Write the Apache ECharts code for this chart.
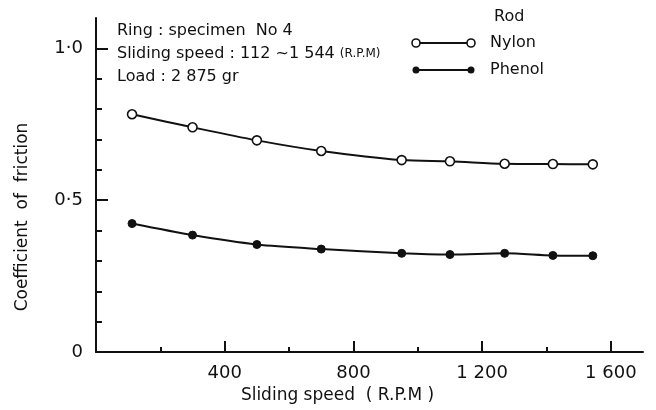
<!DOCTYPE html>
<html>
<head>
<meta charset="utf-8">
<script src="https://cdn.jsdelivr.net/npm/echarts@6/dist/echarts.min.js"></script>
<style>
  html, body { margin: 0; padding: 0; background: #fff; }
  #chart { width: 656px; height: 410px; }
</style>
</head>
<body>
<div id="chart"></div>
<script>
// sliding speed (R.P.M) for each measurement
const speeds = [112, 300, 500, 700, 950, 1100, 1270, 1420, 1544];
// coefficient of friction per rod material
const nylon = [0.783, 0.740, 0.697, 0.662, 0.632, 0.628, 0.620, 0.619, 0.618];
const phenol = [0.423, 0.385, 0.354, 0.339, 0.325, 0.321, 0.325, 0.318, 0.317];

const xMajorTicks = [400, 800, 1200, 1600];
const xMinorTicks = [200, 600, 1000, 1400];
const xTickLabels = ['400', '800', '1 200', '1 600'];
const yMajorTicks = [0, 0.5, 1.0];
const yMinorTicks = [0.1, 0.2, 0.3, 0.4, 0.6, 0.7, 0.8, 0.9];
const yTickLabels = ['0', '0·5', '1·0'];

const FONT = 'DejaVu Sans';
const INK = '#111';
const TEXT_FONT = '16px "DejaVu Sans"';

function pairs(xs, ys) {
  return xs.map((x, i) => [x, ys[i]]);
}
function labelFor(ticks, labels) {
  return v => {
    const i = ticks.findIndex(t => Math.abs(t - v) < 1e-6);
    return i < 0 ? '' : labels[i];
  };
}

const chart = echarts.init(document.getElementById('chart'));

const baseX = { type: 'value', gridIndex: 0, position: 'bottom', min: 0, max: 1700, splitLine: { show: false } };
const baseY = { type: 'value', gridIndex: 0, position: 'left', min: 0, max: 1.1, splitLine: { show: false } };

chart.setOption({
  animation: false,
  backgroundColor: '#fff',
  textStyle: { fontFamily: FONT, color: INK },
  grid: { left: 96, right: 13, top: 18, bottom: 58 },
  xAxis: [
    Object.assign({}, baseX, {
      name: 'Sliding speed  ( R.P.M )',
      nameLocation: 'middle',
      nameGap: 32,
      nameTextStyle: { fontSize: 17, color: INK, padding: [0, 64, 0, 0] },
      axisLine: { lineStyle: { color: INK, width: 2 } },
      axisTick: { inside: true, length: 11, customValues: xMajorTicks, lineStyle: { color: INK, width: 2 } },
      axisLabel: { customValues: xMajorTicks, formatter: labelFor(xMajorTicks, xTickLabels), fontSize: 18, color: INK, margin: 12 }
    }),
    Object.assign({}, baseX, {
      axisLine: { show: false },
      axisTick: { inside: true, length: 5, customValues: xMinorTicks, lineStyle: { color: INK, width: 2 } },
      axisLabel: { show: false }
    })
  ],
  yAxis: [
    Object.assign({}, baseY, {
      name: 'Coefficient  of  friction',
      nameLocation: 'middle',
      nameGap: 65,
      nameTextStyle: { fontSize: 17, color: INK, padding: [0, 64, 0, 0] },
      axisLine: { lineStyle: { color: INK, width: 2 } },
      axisTick: { inside: true, length: 12, customValues: yMajorTicks, lineStyle: { color: INK, width: 2 } },
      axisLabel: { customValues: yMajorTicks, formatter: labelFor(yMajorTicks, yTickLabels), fontSize: 18, color: INK, margin: 13 }
    }),
    Object.assign({}, baseY, {
      axisLine: { show: false },
      axisTick: { inside: true, length: 6, customValues: yMinorTicks, lineStyle: { color: INK, width: 2 } },
      axisLabel: { show: false }
    })
  ],
  series: [
    {
      name: 'Nylon',
      type: 'line',
      smooth: 0.3,
      data: pairs(speeds, nylon),
      symbol: 'circle',
      symbolSize: 9,
      itemStyle: { color: '#fff', borderColor: INK, borderWidth: 1.6 },
      lineStyle: { color: INK, width: 2 }
    },
    {
      name: 'Phenol',
      type: 'line',
      smooth: 0.3,
      data: pairs(speeds, phenol),
      symbol: 'circle',
      symbolSize: 8,
      itemStyle: { color: INK, borderColor: INK, borderWidth: 1 },
      lineStyle: { color: INK, width: 2 }
    }
  ],
  graphic: [
    {
      type: 'text', left: 117, top: 19,
      style: {
        text: 'Ring : specimen  No 4\nSliding speed : 112 ~1 544 {s|(R.P.M)}\nLoad : 2 875 gr',
        font: TEXT_FONT, fill: INK, lineHeight: 23,
        rich: { s: { fontSize: 12, fontFamily: FONT, fill: INK, lineHeight: 23 } }
      }
    },
    { type: 'text', x: 494, y: 17, style: { text: 'Rod', font: TEXT_FONT, fill: INK, verticalAlign: 'middle' } },
    // legend keys
    { type: 'line', shape: { x1: 416, y1: 43, x2: 471, y2: 43 }, style: { stroke: INK, lineWidth: 2 } },
    { type: 'circle', shape: { cx: 416, cy: 43, r: 4 }, style: { fill: '#fff', stroke: INK, lineWidth: 1.6 } },
    { type: 'circle', shape: { cx: 471, cy: 43, r: 4 }, style: { fill: '#fff', stroke: INK, lineWidth: 1.6 } },
    { type: 'text', x: 490, y: 43, style: { text: 'Nylon', font: TEXT_FONT, fill: INK, verticalAlign: 'middle' } },
    { type: 'line', shape: { x1: 416, y1: 70, x2: 471, y2: 70 }, style: { stroke: INK, lineWidth: 2 } },
    { type: 'circle', shape: { cx: 416, cy: 70, r: 3.5 }, style: { fill: INK } },
    { type: 'circle', shape: { cx: 471, cy: 70, r: 3.5 }, style: { fill: INK } },
    { type: 'text', x: 490, y: 70, style: { text: 'Phenol', font: TEXT_FONT, fill: INK, verticalAlign: 'middle' } }
  ]
});
</script>
</body>
</html>
